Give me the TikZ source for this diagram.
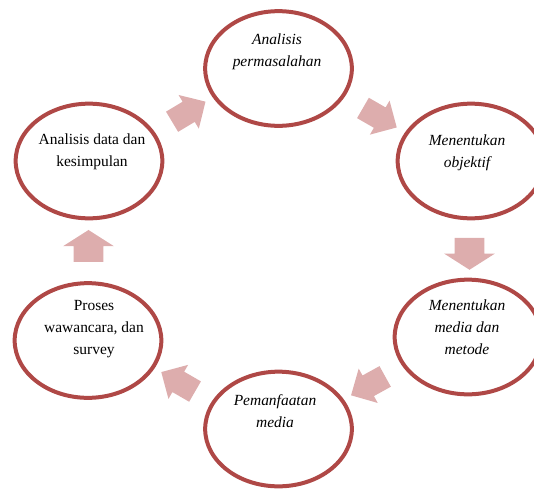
\documentclass[tikz,border=0pt]{standalone}
\usepackage{fontspec}
\setmainfont{Liberation Serif}
\usetikzlibrary{shapes.geometric,shapes.arrows,calc}

\definecolor{ringred}{RGB}{175,72,70}
\definecolor{arrowpink}{RGB}{221,173,173}

\begin{document}
\begin{tikzpicture}[x=0.75pt,y=-0.75pt,
  stage/.style={ellipse,draw=ringred,line width=3pt,fill=white,minimum width=110pt,minimum height=86pt,inner sep=0pt},
  stagetext/.style={align=center,font=\fontsize{11.6}{16.5}\selectfont},
  flow/.style={single arrow,fill=arrowpink,inner sep=0pt,text height=17.25pt,text depth=0pt,minimum height=29.25pt,minimum width=0pt,single arrow tip angle=90,single arrow head extend=5.9pt},
  flowv/.style={flow,text height=22pt,minimum height=24pt,single arrow head extend=7.75pt,single arrow tip angle=115}]

%page size
\useasboundingbox (0,0) rectangle (534,489);

%grid help
% \draw[gray, very thin] (0,0) grid[step=50] (534,489);

%Stages
\node[stage] (e1) at (278.5,68.5) {};
\node[stage] (e2) at (471,161) {};
\node[stage] (e3) at (468,337) {};
\node[stage] (e4) at (278.5,429) {};
\node[stage] (e5) at (88,340.5) {};
\node[stage] (e6) at (89,161) {};

%Texts
\node[stagetext,font=\fontsize{11.6}{16.5}\selectfont\itshape] (t1) at ($(e1)+(-1.5,-17)$) {Analisis\\permasalahan};
\node[stagetext,font=\fontsize{11.6}{16.5}\selectfont\itshape] (t2) at ($(e2)+(-4,-8)$) {Menentukan\\objektif};
\node[stagetext,font=\fontsize{11.6}{16.5}\selectfont\itshape] (t3) at ($(e3)+(-1,-10)$) {Menentukan\\media dan\\metode};
\node[stagetext,font=\fontsize{11.6}{16.5}\selectfont\itshape] (t4) at ($(e4)+(-3.5,-18)$) {Pemanfaatan\\media};
\node[stagetext] (t5) at ($(e5)+(6,-11)$) {Proses\\wawancara, dan\\survey};
\node[stagetext] (t6) at ($(e6)+(3,-9)$) {Analisis data dan\\kesimpulan};

%Arrows between the stages
\node[flow,rotate=31] (a1) at ($(e6)!0.5!(e1)$) {};
\node[flow,rotate=-30] (a2) at ($(e1)!0.5!(e2)$) {};
\node[flowv,rotate=-90] (a3) at ($(e2)!0.5!(e3)$) {};
\node[flow,rotate=209] (a4) at ($(e3)!0.5!(e4)$) {};
\node[flow,rotate=150] (a5) at ($(e4)!0.5!(e5)$) {};
\node[flowv,rotate=90] (a6) at ($(e5)!0.5!(e6)$) {};

\end{tikzpicture}
\end{document}
